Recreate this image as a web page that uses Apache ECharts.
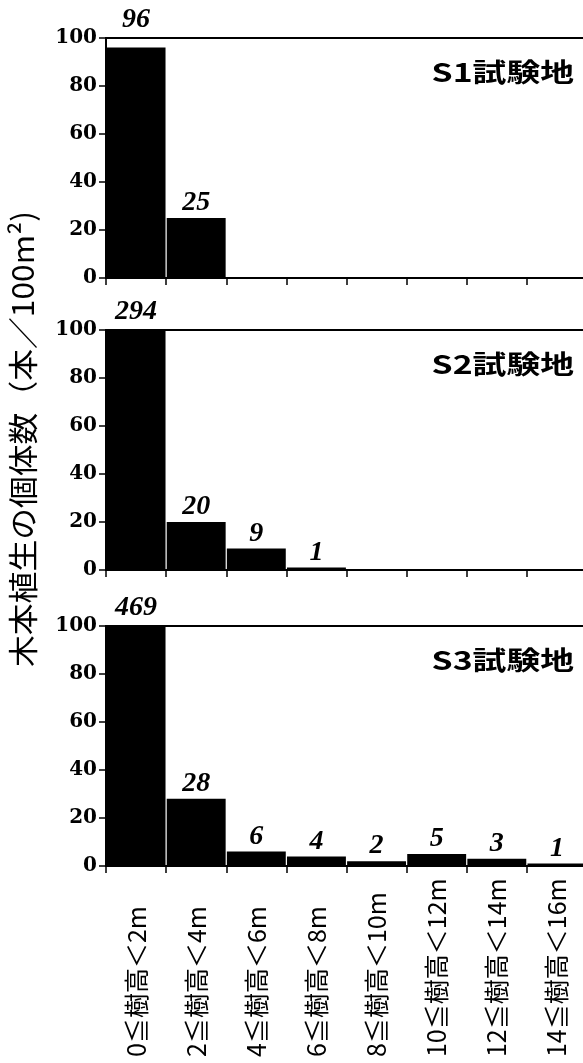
<!DOCTYPE html>
<html>
<head>
<meta charset="utf-8">
<script src="https://cdn.jsdelivr.net/npm/echarts@6/dist/echarts.min.js"></script>
<style>
html,body{margin:0;padding:0;background:#fff;}
#chart{width:583px;height:1063px;}
</style>
</head>
<body>
<div id="chart"></div>
<script>
const categories = ['0≦樹高＜2m','2≦樹高＜4m','4≦樹高＜6m','6≦樹高＜8m','8≦樹高＜10m','10≦樹高＜12m','12≦樹高＜14m','14≦樹高＜16m'];
const s1Values = [96, 25, 0, 0, 0, 0, 0, 0];
const s2Values = [294, 20, 9, 1, 0, 0, 0, 0];
const s3Values = [469, 28, 6, 4, 2, 5, 3, 1];
const siteNames = ['S1試験地', 'S2試験地', 'S3試験地'];
const yMin = 0, yMax = 100, yStep = 20;
const yTitle = '木本植生の個体数（本／100m²)';

const panels = [s1Values, s2Values, s3Values];
const gridTops = [38, 330, 626];
const gridH = 240;
const gridLeft = 106;
const gridW = 481;
const pxPerUnit = gridH / (yMax - yMin);

const chart = echarts.init(document.getElementById('chart'));

const grids = [], xAxes = [], yAxes = [], series = [], graphics = [];
panels.forEach((vals, i) => {
  const last = i === panels.length - 1;
  grids.push({left: gridLeft, top: gridTops[i], width: gridW, height: gridH,
    show: true, borderColor: '#000', borderWidth: 2, backgroundColor: 'transparent',
    containLabel: false, outerBoundsMode: 'none'});
  xAxes.push({type: 'category', gridIndex: i, data: categories,
    axisLine: {show: true, lineStyle: {color: '#000', width: 2}},
    axisTick: {show: true, interval: 0, length: 7, lineStyle: {color: '#000', width: 1.5}},
    axisLabel: last ? {show: true, interval: 0, rotate: 90, align: 'left', verticalAlign: 'middle',
      margin: 191, color: '#000', fontSize: 25, fontFamily: '"Noto Sans CJK JP", sans-serif'} : {show: false, interval: 0},
    splitLine: {show: false}});
  yAxes.push({type: 'value', gridIndex: i, min: yMin, max: yMax, interval: yStep,
    axisLine: {show: true, lineStyle: {color: '#000', width: 2}},
    axisTick: {show: true, length: 7, lineStyle: {color: '#000', width: 1.5}},
    axisLabel: {color: '#000', fontSize: 20, fontWeight: 'bold', fontFamily: '"DejaVu Serif", serif', margin: 9},
    splitLine: {show: false}});
  series.push({type: 'bar', xAxisIndex: i, yAxisIndex: i, barCategoryGap: '2%',
    itemStyle: {color: '#000'},
    data: vals.map(v => {
      const shown = Math.min(v, yMax);
      return {value: shown, label: {distance: v >= 90 ? (yMax - shown) * pxPerUnit + 4 : 1}};
    }),
    label: {show: true, position: 'top', color: '#000', fontSize: 28, fontWeight: 'bold', fontStyle: 'italic',
      fontFamily: '"Liberation Serif", serif',
      formatter: p => vals[p.dataIndex] ? String(vals[p.dataIndex]) : ''}
  });
  graphics.push({type: 'text', x: 574, y: gridTops[i] + 34, scaleX: 1.3,
    style: {text: siteNames[i], fill: '#000', fontSize: 26, fontWeight: 'bold', fontFamily: '"Noto Sans CJK JP", sans-serif',
      textAlign: 'right', textVerticalAlign: 'middle'}});
});

graphics.push({type: 'text', x: 23, y: 439, rotation: Math.PI / 2, scaleX: 1.06,
  style: {text: yTitle, fill: '#000', fontSize: 30, fontFamily: '"Noto Sans CJK JP", sans-serif',
    textAlign: 'center', textVerticalAlign: 'middle'}});

chart.setOption({
  animation: false,
  backgroundColor: '#fff',
  grid: grids, xAxis: xAxes, yAxis: yAxes, series: series, graphic: graphics
});
</script>
</body>
</html>
